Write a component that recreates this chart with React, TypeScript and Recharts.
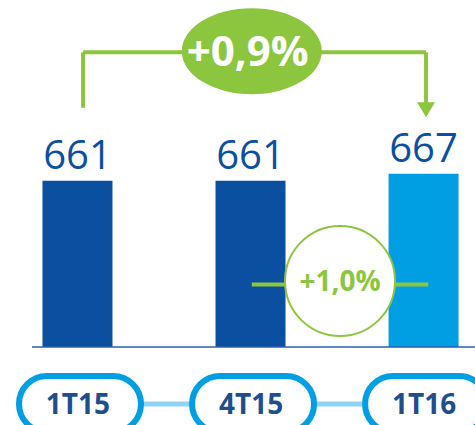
import { BarChart, Bar, XAxis, YAxis, Cell, LabelList, ReferenceLine, ReferenceDot } from "recharts"

// quarters and their values
const categories = ["1T15", "4T15", "1T16"]
const positions = [0, 1, 2]
const values = [661, 661, 667]
const barColors = ["#0b4fa1", "#0b4fa1", "#009fe3"]

// annotations
const totalChange = "+0,9%"
const lastChange = "+1,0%"

const data = positions.map((x, i) => ({ x, value: values[i], name: categories[i] }))

const GREEN = "#8cc63f"
const FONT = "'Open Sans', sans-serif"

function PillTick(props: any) {
  const { x, y, payload, index } = props
  const cx = x + 3
  const cy = y + 55
  return (
    <g>
      {index < categories.length - 1 && (
        <line x1={cx} x2={cx + 173} y1={cy} y2={cy} stroke="#8fd4f4" strokeWidth={5} />
      )}
      <rect x={cx - 61} y={cy - 28} width={122} height={56} rx={28} fill="#fff" stroke="#009fe3" strokeWidth={6} />
      <text x={cx - 2} y={cy + 10} textAnchor="middle" fontSize={28} fontWeight={700} fill="#1f4e8d" fontFamily={FONT}>
        {categories[payload.value]}
      </text>
    </g>
  )
}

function Bubble(props: any) {
  const { cx, cy } = props
  return (
    <g>
      <ellipse cx={cx} cy={cy} rx={70} ry={43} fill={GREEN} />
      <text x={cx - 4} y={cy + 15} textAnchor="middle" fontSize={42} fontWeight={700} fill="#fff" fontFamily={FONT}>
        {totalChange}
      </text>
    </g>
  )
}

function Ring(props: any) {
  const { cx, cy } = props
  return (
    <g>
      <circle cx={cx} cy={cy} r={55} fill="#fff" stroke={GREEN} strokeWidth={2} />
      <text x={cx} y={cy + 10} textAnchor="middle" fontSize={28} fontWeight={700} fill={GREEN} fontFamily={FONT}>
        {lastChange}
      </text>
    </g>
  )
}

function Arrow(props: any) {
  const { cx, cy } = props
  return <polygon points={`${cx - 9},${cy - 15} ${cx + 9},${cy - 15} ${cx},${cy}`} fill={GREEN} />
}

export default function App() {
  return (
    <div style={{ position: "absolute", left: 0, top: 0, width: 475, height: 425, overflow: "hidden", background: "#fff" }}>
      <BarChart width={475} height={425} data={data} margin={{ top: 17, right: 0, left: 32, bottom: 0 }}>
        <XAxis
          type="number"
          dataKey="x"
          domain={[-0.26, 2.3]}
          ticks={positions}
          allowDataOverflow
          height={78}
          tickLine={false}
          tickSize={0}
          axisLine={{ stroke: "#2b5fa8", strokeWidth: 1.5 }}
          tick={<PillTick />}
          interval={0}
        />
        <YAxis hide domain={[520, 800]} allowDataOverflow />
        <Bar dataKey="value" barSize={70} isAnimationActive={false}>
          {data.map((_, i) => (
            <Cell key={i} fill={barColors[i]} />
          ))}
          <LabelList dataKey="value" position="top" offset={12} fill="#0b4fa1" fontSize={40} fontFamily={FONT} />
        </Bar>

        {/* bracket 1T15 -> 1T16 */}
        <ReferenceLine segment={[{ x: 0.035, y: 723 }, { x: 0.035, y: 770 }]} stroke={GREEN} strokeWidth={4} ifOverflow="visible" />
        <ReferenceLine segment={[{ x: 0.035, y: 770 }, { x: 2.017, y: 770 }]} stroke={GREEN} strokeWidth={4} ifOverflow="visible" />
        <ReferenceLine segment={[{ x: 2.017, y: 770 }, { x: 2.017, y: 727 }]} stroke={GREEN} strokeWidth={4} ifOverflow="visible" />
        <ReferenceDot x={2.017} y={715} shape={<Arrow />} ifOverflow="visible" />
        <ReferenceDot x={1.01} y={771} shape={<Bubble />} ifOverflow="visible" />

        {/* 4T15 -> 1T16 */}
        <ReferenceLine segment={[{ x: 1.01, y: 573 }, { x: 2.03, y: 573 }]} stroke={GREEN} strokeWidth={4} ifOverflow="visible" />
        <ReferenceDot x={1.52} y={576} shape={<Ring />} ifOverflow="visible" />
      </BarChart>
    </div>
  )
}
